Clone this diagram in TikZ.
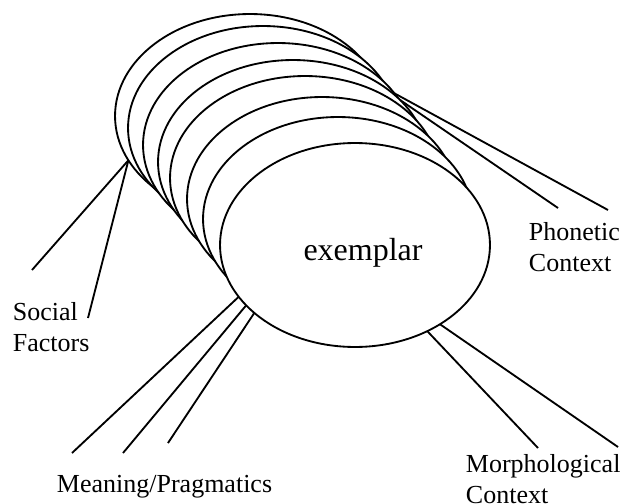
\documentclass[tikz,border=0pt]{standalone}
\usepackage{fontspec}
\setmainfont{Liberation Serif}
\usetikzlibrary{shapes.geometric}

\begin{document}
\begin{tikzpicture}[x=0.02cm, y=-0.02cm, line width=1.05pt,
        memory/.style={ellipse, draw, fill=white, inner sep=0pt, outer sep=0pt,
            minimum width=5.4cm, minimum height=4.08cm},
        factor/.style={align=left, inner sep=0pt, anchor=north west,
            font=\fontsize{14.8}{17.5}\selectfont}]
    \useasboundingbox (0,0) rectangle (626,504);

    % Stack of exemplars, back to front
    \foreach \cx/\cy [count=\i] in {250/116, 263/128, 278/145, 293/162,
                                    305/178, 322/199, 338/219, 355/245}
        \node[memory] (e\i) at (\cx,\cy) {};

    % Front one
    \node[font=\fontsize{18.2}{22}\selectfont] (word) at (363,253) {exemplar};

    % Labels
    \node[factor] (social) at (12,302) {Social\\Factors};
    \node[factor] (phonetic) at (528,222) {Phonetic\\Context};
    \node[factor] (meaning) at (56,474) {Meaning/Pragmatics};
    \node[factor] (morph) at (465,454) {Morphological\\Context};

    % Free ends of the lines
    \coordinate (s1) at (32,270);
    \coordinate (s2) at (88,318);
    \coordinate (p1) at (608,210);
    \coordinate (p2) at (558,208);
    \coordinate (m1) at (72,453);
    \coordinate (m2) at (123,453);
    \coordinate (m3) at (168,443);
    \coordinate (r1) at (538,448);
    \coordinate (r2) at (618,447);

    % Social factors
    \draw (e1.200) -- (s1);
    \draw (e1.200) -- (s2);

    % Phonetic context
    \draw (e3.24) -- (p1);
    \draw (e4.30) -- (p2);

    % Meaning/pragmatics
    \draw (e8.204) -- (m1);
    \draw (e8.209) -- (m2);
    \draw (e8.214) -- (m3);

    % Morphological context
    \draw (e8.310) -- (r1);
    \draw (e8.317) -- (r2);
\end{tikzpicture}
\end{document}
